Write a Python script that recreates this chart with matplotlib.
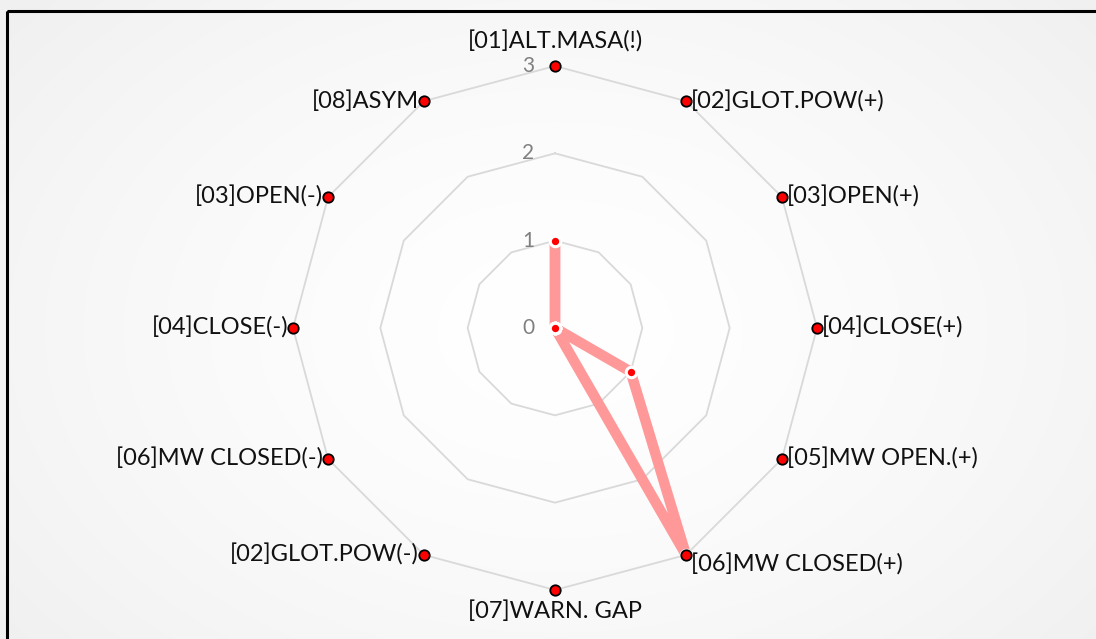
import numpy as np
import matplotlib
matplotlib.use("Agg")
import matplotlib.pyplot as plt
from matplotlib.patches import Rectangle

categories = ['[01]ALT.MASA(!)', '[02]GLOT.POW(+)', '[03]OPEN(+)', '[04]CLOSE(+)',
              '[05]MW OPEN.(+)', '[06]MW CLOSED(+)', '[07]WARN. GAP', '[02]GLOT.POW(-)',
              '[06]MW CLOSED(-)', '[04]CLOSE(-)', '[03]OPEN(-)', '[08]ASYM']
limit_values = [3, 3, 3, 3, 3, 3, 3, 3, 3, 3, 3, 3]
result_values = [1, 0, 0, 0, 1, 3, 0, 0, 0, 0, 0, 0]
ring_ticks = [0, 1, 2, 3]

W, H, DPI = 1096, 639, 100
fig = plt.figure(figsize=(W / DPI, H / DPI), dpi=DPI)
plt.rcParams['font.family'] = ['Lato', 'DejaVu Sans']

# background radial gradient
bg = fig.add_axes([0, 0, 1, 1], zorder=0)
yy, xx = np.mgrid[0:H, 0:W]
d = np.sqrt(((xx - 555) / 600.0) ** 2 + ((yy - 330) / 420.0) ** 2)
g = np.clip(1.0 - 0.045 * d ** 1.5, 0.945, 1.0)
bg.imshow(np.dstack([g, g, g]), extent=[0, W, H, 0], aspect='auto', interpolation='bilinear')
bg.set_xlim(0, W)
bg.set_ylim(H, 0)
bg.axis('off')
bg.add_patch(Rectangle((7, 11), W + 20, H + 20, fill=False, edgecolor='black', linewidth=2.2))

cx, cy, R = 555, 328, 262
ax = fig.add_axes([(cx - R) / W, (H - cy - R) / H, 2 * R / W, 2 * R / H],
                  projection='polar', zorder=1)
ax.patch.set_alpha(0)
ax.set_theta_zero_location('N')
ax.set_theta_direction(-1)
ax.set_ylim(0, 3)
ax.grid(False)
ax.spines['polar'].set_visible(False)
ax.set_xticks([])
ax.set_yticks([])

n = len(categories)
theta = np.arange(n) * 2 * np.pi / n
theta_c = np.append(theta, theta[0])

# polygon rings
for t in ring_ticks[1:]:
    ax.plot(theta_c, [t] * (n + 1), color='#d9d9d9', linewidth=1.3, zorder=1, clip_on=False)

# tick labels
for t in ring_ticks:
    ax.annotate(str(t), xy=(0, t), xytext=(-27, 0), textcoords='offset pixels',
                ha='center', va='center', fontsize=15, color='#808080', zorder=2,
                annotation_clip=False)

# result series
rv = np.append(result_values, result_values[0])
ax.plot(theta_c, rv, color='#ff9999', linewidth=7.5, solid_joinstyle='round',
        solid_capstyle='round', zorder=3, clip_on=False)
ax.plot(theta, result_values, linestyle='none', marker='o', markersize=7.5,
        markerfacecolor='#ff0000', markeredgecolor='white', markeredgewidth=2.2, zorder=4,
        clip_on=False)

# limit series (markers only)
ax.plot(theta, limit_values, linestyle='none', marker='o', markersize=7.5,
        markerfacecolor='#ff0000', markeredgecolor='black', markeredgewidth=1.3, zorder=5,
        clip_on=False)

# category labels
for i, (th, lab) in enumerate(zip(theta, categories)):
    s, c = np.sin(th), np.cos(th)
    if abs(s) < 1e-6:
        ha = 'center'
        dx = 0
        dy = 24 if c > 0 else -21
    elif s > 0:
        ha = 'left'
        dx = 5
        dy = -10 if c < -0.8 else 0
    else:
        ha = 'right'
        dx = -5
        dy = 0
    ax.annotate(lab, xy=(th, limit_values[i]), xytext=(dx, dy), textcoords='offset pixels',
                ha=ha, va='center', fontsize=17, color='#111111', zorder=6,
                annotation_clip=False)

fig.savefig('out.png', dpi=DPI)
